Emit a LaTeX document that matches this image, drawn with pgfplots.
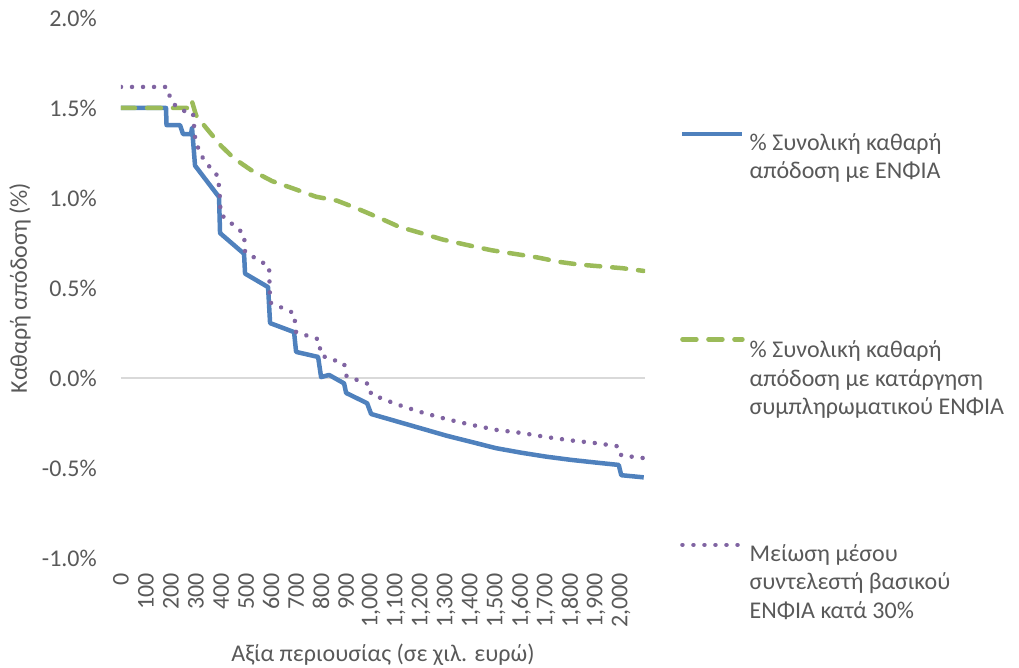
\documentclass[border=0pt]{standalone}
\usepackage{fontspec}
\setmainfont{Carlito}
\usepackage{pgfplots}
\pgfplotsset{compat=1.18}
\definecolor{cblue}{HTML}{4F81BD}
\definecolor{cgreen}{HTML}{9BBB59}
\definecolor{cpurple}{HTML}{8064A2}
\definecolor{ctext}{HTML}{595959}
\definecolor{czero}{HTML}{D9D9D9}
\newcommand{\cfont}{\fontsize{24bp}{28.5bp}\selectfont}
\begin{document}
\begin{tikzpicture}[font=\cfont]
\useasboundingbox (-121bp,-110bp) rectangle (898bp,558bp);
\begin{axis}[
  at={(0,0)}, anchor=south west,
  scale only axis, width=524bp, height=540bp,
  xmin=0, xmax=2095, ymin=-1, ymax=2,
  axis line style={draw=none},
  tick style={draw=none},
  major tick length=0pt,
  ytick={-1,-0.5,0,0.5,1,1.5,2},
  yticklabels={-1.0\%,-0.5\%,0.0\%,0.5\%,1.0\%,1.5\%,2.0\%},
  xtick={0,100,...,2000},
  xticklabels={0,100,200,300,400,500,600,700,800,900,{1,000},{1,100},{1,200},{1,300},{1,400},{1,500},{1,600},{1,700},{1,800},{1,900},{2,000}},
  xticklabel style={yshift=-15bp, rotate=90, anchor=east, inner sep=0pt, text=ctext, font=\cfont},
  yticklabel style={anchor=east, inner sep=0pt, xshift=-24bp, text=ctext, font=\cfont},
  extra y ticks={0},
  extra y tick labels={},
  extra y tick style={grid=major, major grid style={czero, line width=1.6bp}},
  ylabel={Καθαρή απόδοση (\%)},
  ylabel style={at={(rel axis cs:-0.1927,0.5)}, anchor=center, text=ctext, font=\cfont},
  xlabel={Αξία περιουσίας (σε χιλ. ευρώ)},
  xlabel style={at={(rel axis cs:0.5,-0.1796)}, anchor=center, text=ctext, font=\cfont},
  legend cell align=left,
  legend style={at={(rel axis cs:0,1)}, anchor=north west, xshift=559bp, yshift=-110bp,
    draw=none, fill=none, inner sep=0pt, row sep=178bp, column sep=5bp, font=\cfont, text=ctext,
    nodes={inner xsep=0pt}},
  legend image code/.code={\draw[#1] (0bp,7bp) -- (60bp,7bp);},
]
\addplot[cblue, line width=4.5bp, line join=round] coordinates {
(0,1.50) (180,1.50) (182,1.405) (236,1.405) (248,1.355) (280,1.355) (284,1.39) (296,1.18)
(392,1.005) (396,0.805) (492,0.69) (496,0.58) (588,0.505) (596,0.305) (692,0.255) (700,0.145)
(788,0.117) (800,0.005) (832,0.017) (892,-0.03) (900,-0.083) (984,-0.14) (1000,-0.20)
(1100,-0.24) (1200,-0.28) (1300,-0.32) (1400,-0.355) (1500,-0.39) (1600,-0.415) (1700,-0.437)
(1800,-0.455) (1900,-0.47) (1990,-0.483) (2000,-0.54) (2090,-0.552)
};
\addlegendentry{\begin{tabular}[t]{@{}l@{}}\% Συνολική καθαρή\\απόδοση με ΕΝΦΙΑ\end{tabular}}
\addplot[cgreen, line width=4.5bp, line cap=round, dash pattern=on 14bp off 12bp] coordinates {
(0,1.50) (264,1.50) (282,1.545) (300,1.46) (340,1.39) (400,1.29) (452,1.22) (520,1.155)
(604,1.094) (684,1.055) (780,1.007) (864,0.985) (940,0.944) (1032,0.89) (1112,0.84)
(1200,0.805) (1284,0.77) (1380,0.74) (1480,0.71) (1572,0.69) (1664,0.67) (1752,0.645)
(1832,0.63) (1920,0.62) (2004,0.61) (2090,0.595)
};
\addlegendentry{\begin{tabular}[t]{@{}l@{}}\rule{0pt}{24bp}\% Συνολική καθαρή\\απόδοση με κατάργηση\\συμπληρωματικού ΕΝΦΙΑ\end{tabular}}
\addplot[cpurple, line width=4.5bp, line cap=round, dash pattern=on 0.01bp off 11bp] coordinates {
(0,1.617) (184,1.617) (196,1.56) (212,1.52) (244,1.49) (272,1.47) (288,1.47) (292,1.40)
(296,1.34) (308,1.28) (328,1.22) (356,1.17) (388,1.12) (392,1.06) (396,0.99) (398,0.91)
(492,0.80) (496,0.70) (592,0.62) (596,0.42) (692,0.36) (700,0.255) (790,0.215) (800,0.125)
(892,0.08) (902,0.01) (992,-0.035) (1000,-0.09) (1100,-0.145) (1200,-0.19) (1300,-0.228)
(1400,-0.26) (1500,-0.288) (1600,-0.305) (1700,-0.328) (1800,-0.347) (1900,-0.362)
(1990,-0.38) (2000,-0.43) (2090,-0.445)
};
\addlegendentry{\begin{tabular}[t]{@{}l@{}}Μείωση μέσου\\συντελεστή βασικού\\ΕΝΦΙΑ κατά 30\%\end{tabular}}
\end{axis}
\end{tikzpicture}
\end{document}
